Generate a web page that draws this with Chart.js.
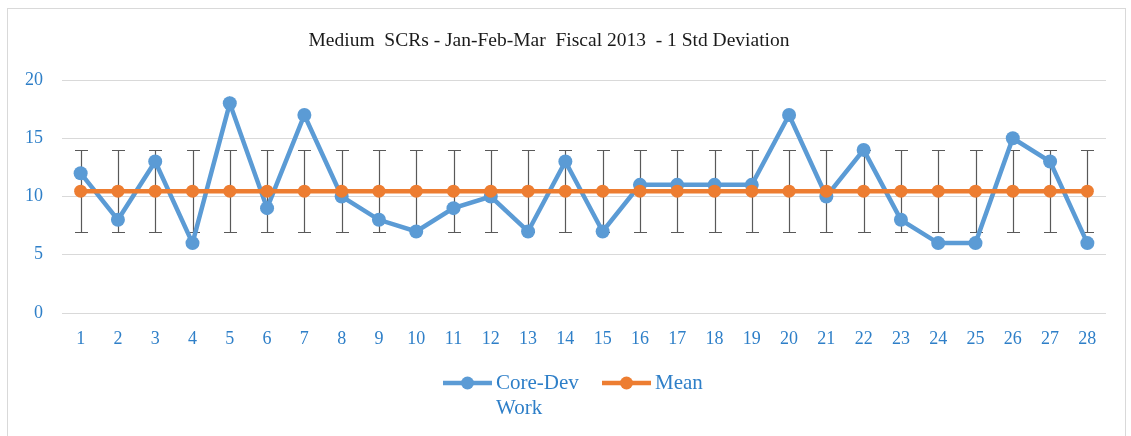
<!DOCTYPE html>
<html>
<head>
<meta charset="utf-8">
<script src="https://cdn.jsdelivr.net/npm/chart.js@4/dist/chart.umd.min.js"></script>
<style>
  html, body { margin: 0; padding: 0; background: #ffffff; overflow: hidden; }
  #wrap { position: relative; width: 1131px; height: 436px; }
  #frame { position: absolute; left: 7px; top: 8px; width: 1119px; height: 460px; border: 1px solid #d9d9d9; box-sizing: border-box; pointer-events: none; }
  canvas { position: absolute; left: 0; top: 0; }
</style>
</head>
<body>
<div id="wrap">
  <canvas id="c" width="1131" height="436"></canvas>
  <div id="frame"></div>
</div>
<script>
const chartTitle = "Medium  SCRs - Jan-Feb-Mar  Fiscal 2013  - 1 Std Deviation";
const categories = ["1","2","3","4","5","6","7","8","9","10","11","12","13","14","15","16","17","18","19","20","21","22","23","24","25","26","27","28"];
const coreDevWork = [12, 8, 13, 6, 18, 9, 17, 10, 8, 7, 9, 10, 7, 13, 7, 11, 11, 11, 11, 17, 10, 14, 8, 6, 6, 15, 13, 6];
const meanValues = [10.46, 10.46, 10.46, 10.46, 10.46, 10.46, 10.46, 10.46, 10.46, 10.46, 10.46, 10.46, 10.46, 10.46, 10.46, 10.46, 10.46, 10.46, 10.46, 10.46, 10.46, 10.46, 10.46, 10.46, 10.46, 10.46, 10.46, 10.46];
const stdDeviation = [3.55, 3.55, 3.55, 3.55, 3.55, 3.55, 3.55, 3.55, 3.55, 3.55, 3.55, 3.55, 3.55, 3.55, 3.55, 3.55, 3.55, 3.55, 3.55, 3.55, 3.55, 3.55, 3.55, 3.55, 3.55, 3.55, 3.55, 3.55];
const yTicks = [0, 5, 10, 15, 20];
const legendLabels = [["Core-Dev", "Work"], ["Mean"]];

const BLUE = "#5B9BD5";
const ORANGE = "#ED7D31";
const TICK_COLOR = "#2E7FC8";
const SERIF = "'Liberation Serif', 'Times New Roman', serif";

const errorBarPlugin = {
  id: "errorBars",
  beforeDatasetsDraw(chart) {
    const ctx = chart.ctx;
    const x = chart.scales.x, y = chart.scales.y;
    ctx.save();
    ctx.strokeStyle = "#595959";
    ctx.lineWidth = 1.2;
    for (let i = 0; i < meanValues.length; i++) {
      const px = Math.round(x.getPixelForValue(i)) + 0.5;
      const top = Math.round(y.getPixelForValue(meanValues[i] + stdDeviation[i])) + 0.5;
      const bot = Math.round(y.getPixelForValue(meanValues[i] - stdDeviation[i])) + 0.5;
      ctx.beginPath();
      ctx.moveTo(px, top); ctx.lineTo(px, bot);
      ctx.moveTo(px - 6.5, top); ctx.lineTo(px + 6.5, top);
      ctx.moveTo(px - 6.5, bot); ctx.lineTo(px + 6.5, bot);
      ctx.stroke();
    }
    ctx.restore();
  }
};

const titleLegendPlugin = {
  id: "titleLegend",
  afterDraw(chart) {
    const ctx = chart.ctx;
    ctx.save();
    ctx.fillStyle = "#1a1a1a";
    ctx.font = "19.5px " + SERIF;
    ctx.textAlign = "center";
    ctx.textBaseline = "middle";
    ctx.fillText(chartTitle, 549, 41);

    const colors = [BLUE, ORANGE];
    const starts = [443, 602];
    ctx.font = "21px " + SERIF;
    ctx.textAlign = "left";
    for (let k = 0; k < legendLabels.length; k++) {
      const x0 = starts[k], yc = 383;
      ctx.strokeStyle = colors[k];
      ctx.fillStyle = colors[k];
      ctx.lineWidth = 4.5;
      ctx.beginPath(); ctx.moveTo(x0, yc); ctx.lineTo(x0 + 49, yc); ctx.stroke();
      ctx.beginPath(); ctx.arc(x0 + 24.5, yc, 6.5, 0, Math.PI * 2); ctx.fill();
      ctx.fillStyle = TICK_COLOR;
      legendLabels[k].forEach((line, j) => ctx.fillText(line, x0 + 53, yc + j * 25));
    }
    ctx.restore();
  }
};

new Chart(document.getElementById("c"), {
  type: "line",
  data: {
    labels: categories,
    datasets: [
      { label: "Core-Dev Work", data: coreDevWork, borderColor: BLUE, backgroundColor: BLUE,
        borderWidth: 4.5, pointRadius: 7, pointHoverRadius: 7, pointBorderWidth: 0, tension: 0, order: 2 },
      { label: "Mean", data: meanValues, borderColor: ORANGE, backgroundColor: ORANGE,
        borderWidth: 4.5, pointRadius: 6.5, pointHoverRadius: 6.5, pointBorderWidth: 0, tension: 0, order: 1 }
    ]
  },
  options: {
    responsive: false,
    animation: false,
    devicePixelRatio: 1,
    layout: { padding: { top: 80, left: 0, right: 25, bottom: 83 } },
    plugins: { legend: { display: false }, title: { display: false }, tooltip: { enabled: false } },
    scales: {
      x: {
        offset: true,
        grid: { display: false, drawTicks: false },
        border: { display: false },
        ticks: { color: TICK_COLOR, font: { family: SERIF, size: 18 }, padding: 15, maxRotation: 0, autoSkip: false },
        afterFit(s) { s.height = 40; }
      },
      y: {
        min: 0, max: 20,
        afterBuildTicks(s) { s.ticks = yTicks.map(v => ({ value: v })); },
        grid: { color: "#d9d9d9", lineWidth: 1, drawTicks: false },
        border: { display: false },
        ticks: { color: TICK_COLOR, font: { family: SERIF, size: 18 }, padding: 19 },
        afterFit(s) { s.width = 62; }
      }
    }
  },
  plugins: [errorBarPlugin, titleLegendPlugin]
});
</script>
</body>
</html>
